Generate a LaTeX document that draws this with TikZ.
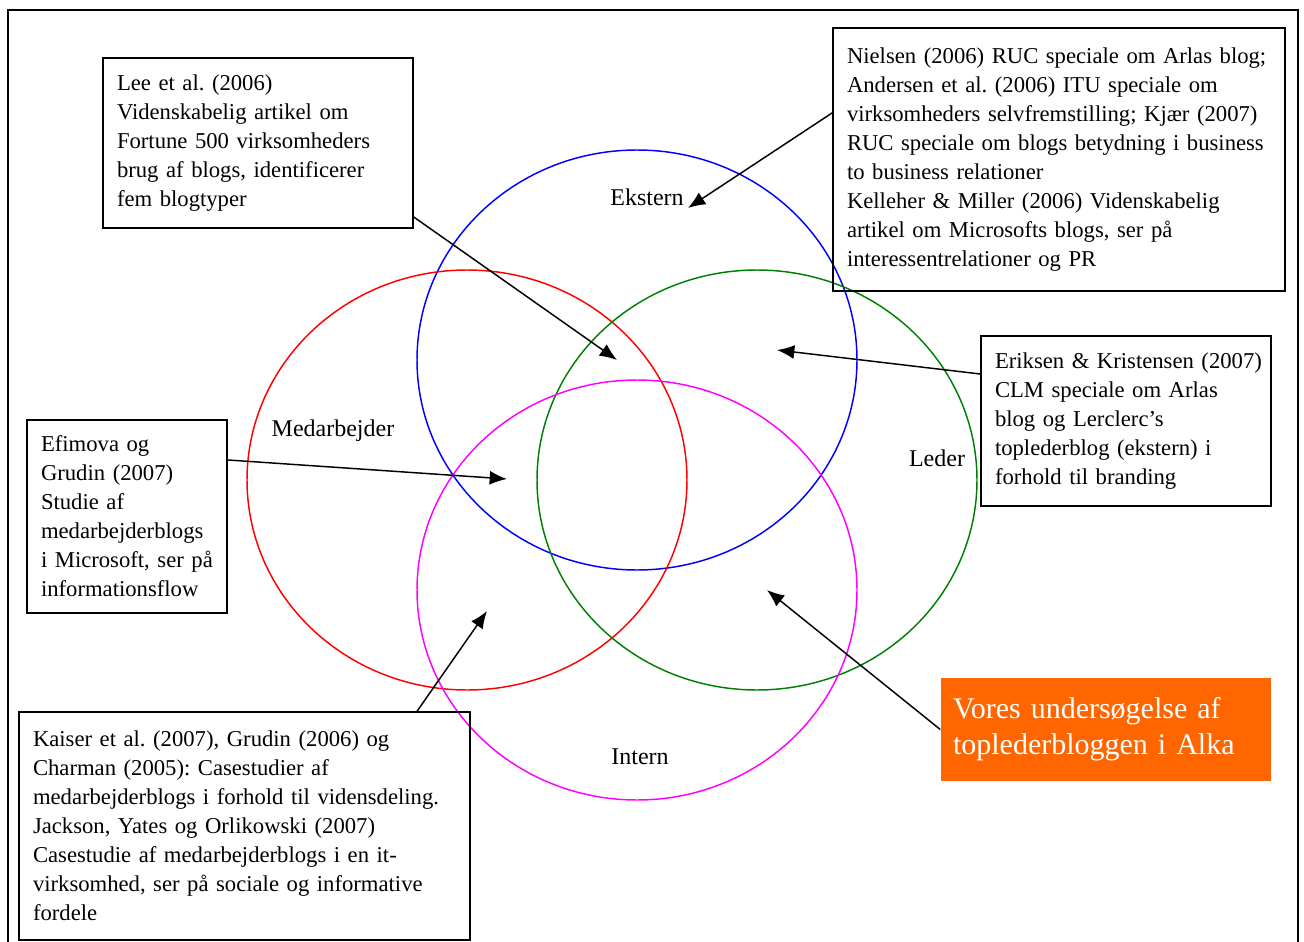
\documentclass[tikz,border=0pt]{standalone}
\usepackage{fontspec}
\setmainfont{Liberation Serif}
\usetikzlibrary{arrows.meta}
\definecolor{alkaorange}{RGB}{255,102,0}
\definecolor{ledergreen}{RGB}{0,128,0}
\definecolor{internpink}{RGB}{255,0,255}
\frenchspacing

\tikzset{
 kasse/.style={draw,line width=1.1pt,inner sep=0pt,align=left,font=\fontsize{17}{21.75}\selectfont},
 felt/.style={line width=1.1pt},
 lbl/.style={font=\fontsize{18}{21.75}\selectfont},
 pil/.style={-{Latex[length=13pt,width=10.5pt]},line width=1.1pt}
}

\begin{document}
\begin{tikzpicture}[x=0.75pt,y=-0.75pt]
 \clip (0,0) rectangle (1304,942);
 \draw[line width=1.2pt] (8,10) rectangle (1298,980);

 % de fire felter
 \draw[felt,blue] (637,360) ellipse [x radius=165pt, y radius=157.5pt];
 \draw[felt,red] (467,480) ellipse [x radius=165pt, y radius=157.5pt];
 \draw[felt,ledergreen] (757,480) ellipse [x radius=165pt, y radius=157.5pt];
 \draw[felt,internpink] (637,590) ellipse [x radius=165pt, y radius=157.5pt];

 \node[lbl] (ekstern) at (647,197) {Ekstern};
 \node[lbl] (medarb) at (333,431) {Medarbejder};
 \node[lbl] (leder) at (937,458) {Leder};
 \node[lbl] (intern) at (640,757) {Intern};

 % litteratur
 \node[kasse,minimum width=232.5pt,minimum height=127.5pt,text width=211.5pt] (lee) at (258,143)
  {Lee et al. (2006)\\Videnskabelig artikel om\\Fortune 500 virksomheders\\brug af blogs, identificerer\\fem blogtyper};
 \node[kasse,minimum width=339pt,minimum height=197.25pt,text width=318pt] (nielsen) at (1059,159.5)
  {Nielsen (2006) RUC speciale om Arlas blog;\\Andersen et al. (2006) ITU speciale om\\virksomheders selvfremstilling; Kjær (2007)\\RUC speciale om blogs betydning i business\\to business relationer\\Kelleher \& Miller (2006) Videnskabelig\\artikel om Microsofts blogs, ser på\\interessentrelationer og PR};
 \node[kasse,minimum width=150pt,minimum height=144.75pt,text width=129pt] (efimova) at (127,516.5)
  {Efimova og\\Grudin (2007)\\Studie af\\medarbejderblogs\\i Microsoft, ser på\\informationsflow};
 \node[kasse,minimum width=338.25pt,minimum height=171pt,text width=317.25pt] (kaiser) at (244.5,826)
  {Kaiser et al. (2007), Grudin (2006) og\\Charman (2005): Casestudier af\\medarbejderblogs i forhold til vidensdeling.\\Jackson, Yates og Orlikowski (2007)\\Casestudie af medarbejderblogs i en it-\\virksomhed, ser på sociale og informative\\fordele};
 \node[kasse,minimum width=217.5pt,minimum height=127.5pt,text width=196.5pt] (eriksen) at (1126,421)
  {\makebox[196.5pt][l]{Eriksen \& Kristensen (2007)}\\CLM speciale om Arlas\\blog og Lerclerc’s\\toplederblog (ekstern) i\\forhold til branding};
 \node[kasse,draw=none,fill=alkaorange,text=white,font=\fontsize{22.5}{27}\selectfont,
  minimum width=247.5pt,minimum height=77.25pt,text width=229.5pt] (vores) at (1106,729.5)
  {Vores undersøgelse af\\toplederbloggen i Alka};

 % pilespidser
 \coordinate (mLee) at (617,360);
 \coordinate (mNielsen) at (688,208);
 \coordinate (mEriksen) at (777,350);
 \coordinate (mEfimova) at (507,479);
 \coordinate (mKaiser) at (487,611);
 \coordinate (mVores) at (767,590);

 \draw[pil] ([yshift=-55.5pt]lee.east) -- (mLee);
 \draw[pil] ([yshift=35pt]nielsen.west) -- (mNielsen);
 \draw[pil] ([yshift=35.25pt]eriksen.west) -- (mEriksen);
 \draw[pil] ([yshift=42.4pt]efimova.east) -- (mEfimova);
 \draw[pil] ([xshift=129.4pt]kaiser.north) -- (mKaiser);
 \draw[pil] (vores.west) -- (mVores);
\end{tikzpicture}
\end{document}
